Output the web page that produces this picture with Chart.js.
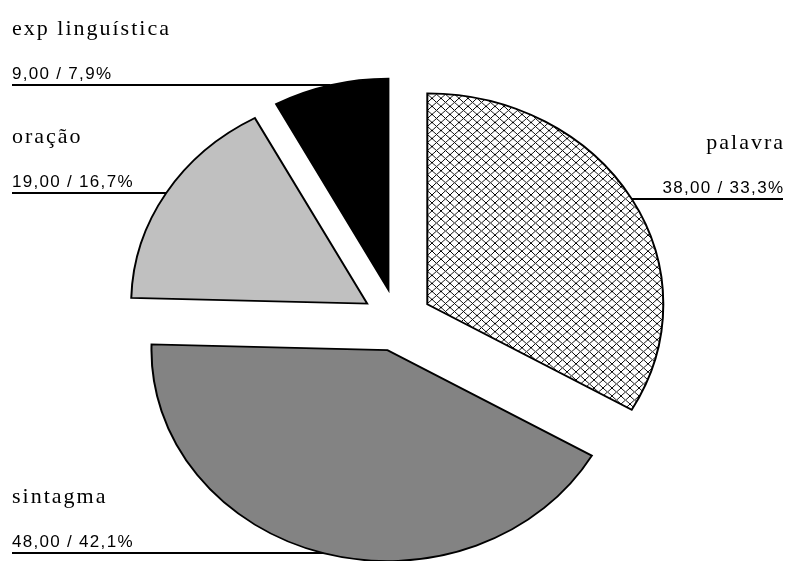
<!DOCTYPE html>
<html>
<head>
<meta charset="utf-8">
<script src="https://cdn.jsdelivr.net/npm/chart.js@4.4.0/dist/chart.umd.min.js"></script>
<style>
    html, body { margin: 0; padding: 0; background: #fff; }
    canvas { display: block; }
</style>
</head>
<body>
<canvas id="pieChart" width="788" height="561"></canvas>
<script>
// Dados do gráfico
const categorias = ['palavra', 'sintagma', 'oração', 'exp linguística'];
const valores = [38, 48, 19, 9];

// Aparência das fatias
const explode = 35;              // afastamento das fatias
const raio = 236;                // raio horizontal
const achatamento = 211 / 236;   // pizza levemente elíptica

// Padrão quadriculado (hachura cruzada)
function criarHachura(ctx) {
    const t = 9;
    const c = document.createElement('canvas');
    c.width = t;
    c.height = t;
    const g = c.getContext('2d');
    g.fillStyle = '#fff';
    g.fillRect(0, 0, t, t);
    g.strokeStyle = '#000';
    g.lineWidth = 1;
    g.beginPath();
    [-t, 0, t].forEach(k => {
        g.moveTo(k, 0); g.lineTo(k + t, t);
        g.moveTo(k + t, 0); g.lineTo(k, t);
    });
    g.stroke();
    return ctx.createPattern(c, 'repeat');
}

// Afasta cada fatia do centro na direção do seu ângulo médio
const explodePlugin = {
    id: 'explode',
    afterDatasetUpdate(chart, args) {
        const meta = chart.getDatasetMeta(args.index);
        meta.data.forEach(arc => {
            const mid = (arc.startAngle + arc.endAngle) / 2;
            arc.x += Math.cos(mid) * explode;
            arc.y += Math.sin(mid) * explode;
        });
    }
};

// Achata verticalmente o desenho das fatias
const elipsePlugin = {
    id: 'elipse',
    beforeDatasetsDraw(chart) {
        const { ctx, chartArea } = chart;
        const cy = (chartArea.top + chartArea.bottom) / 2;
        ctx.save();
        ctx.translate(0, cy);
        ctx.scale(1, achatamento);
        ctx.translate(0, -cy);
    },
    afterDatasetsDraw(chart) {
        chart.ctx.restore();
    }
};

// Rótulos com linha de chamada
const rotulosPlugin = {
    id: 'rotulos',
    afterDraw(chart) {
        const { ctx, chartArea } = chart;
        const cx = (chartArea.left + chartArea.right) / 2;
        const cy = (chartArea.top + chartArea.bottom) / 2;
        const total = valores.reduce((a, b) => a + b, 0);
        const meta = chart.getDatasetMeta(0);

        meta.data.forEach((arc, i) => {
            const mid = (arc.startAngle + arc.endAngle) / 2;
            const px = arc.x + Math.cos(mid) * arc.outerRadius;
            const py = Math.round(cy + (arc.y + Math.sin(mid) * arc.outerRadius - cy) * achatamento);
            const direita = px > cx;
            const x0 = direita ? chart.width - 5 : 12;

            ctx.save();
            ctx.beginPath();
            ctx.moveTo(x0, py);
            ctx.lineTo(px, py);
            ctx.lineWidth = 2;
            ctx.strokeStyle = '#000';
            ctx.stroke();

            ctx.fillStyle = '#000';
            ctx.textAlign = direita ? 'right' : 'left';
            ctx.textBaseline = 'alphabetic';

            ctx.font = '22px "Liberation Serif"';
            ctx.letterSpacing = '2px';
            ctx.fillText(categorias[i], x0 + (direita ? 2 : 0), py - 50);

            const pct = (valores[i] / total * 100).toFixed(1).replace('.', ',');
            const texto = valores[i].toFixed(2).replace('.', ',') + ' / ' + pct + '%';
            ctx.font = '17px "Liberation Sans"';
            ctx.letterSpacing = '1.3px';
            ctx.fillText(texto, x0 + (direita ? 1.3 : 0), py - 6);
            ctx.restore();
        });
    }
};

const ctx = document.getElementById('pieChart').getContext('2d');
const cores = [criarHachura(ctx), '#838383', '#c0c0c0', '#000000'];

const pieChart = new Chart(ctx, {
    type: 'pie',
    data: {
        labels: categorias,
        datasets: [{
            data: valores,
            backgroundColor: cores,
            borderColor: '#000',
            borderWidth: 2,
            borderJoinStyle: 'miter',
            radius: raio,
            clip: false
        }]
    },
    options: {
        responsive: false,
        animation: false,
        events: [],
        layout: {
            padding: { left: 6, right: 0, top: 79, bottom: 0 }
        },
        plugins: {
            legend: { display: false },
            tooltip: { enabled: false }
        }
    },
    plugins: [explodePlugin, elipsePlugin, rotulosPlugin]
});
</script>
</body>
</html>
